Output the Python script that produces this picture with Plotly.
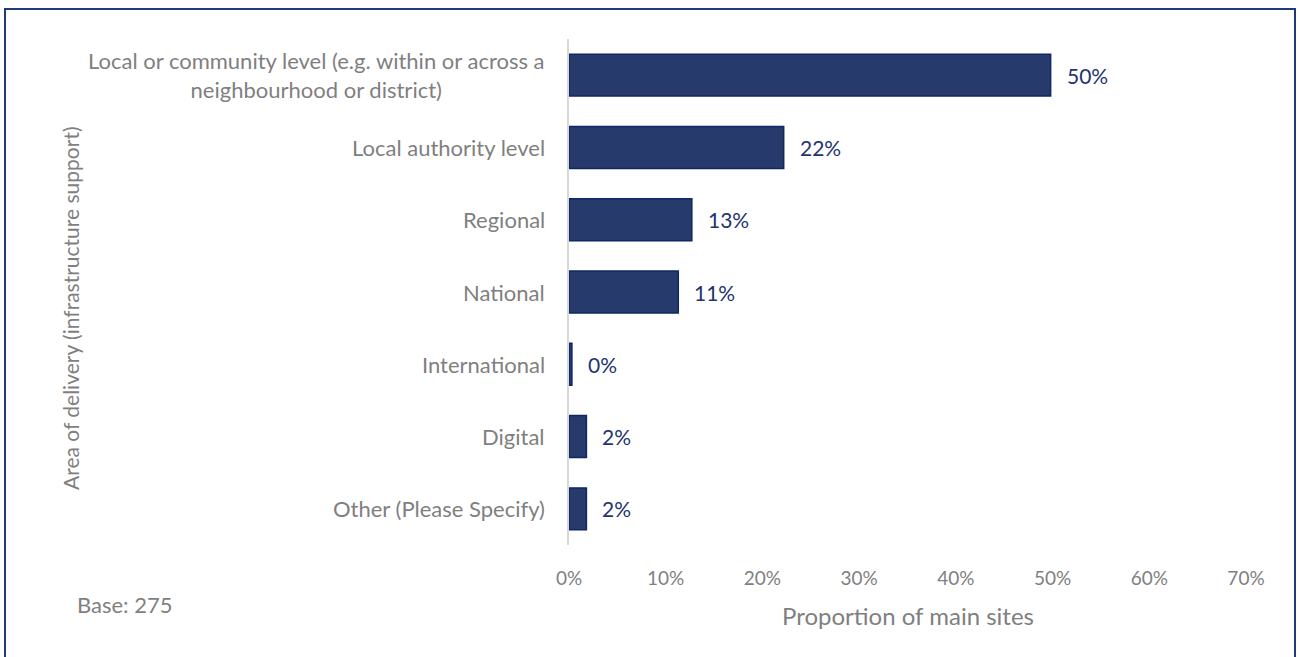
import plotly.graph_objects as go

categories = [
    "Local or community level (e.g. within or across a<br>neighbourhood or district)",
    "Local authority level",
    "Regional",
    "National",
    "International",
    "Digital",
    "Other (Please Specify)",
]
values = [49.8, 22.2, 12.7, 11.3, 0.3, 1.8, 1.8]
labels = ["50%", "22%", "13%", "11%", "0%", "2%", "2%"]
x_ticks = [0, 10, 20, 30, 40, 50, 60, 70]
x_tick_labels = ["0%", "10%", "20%", "30%", "40%", "50%", "60%", "70%"]

GRAY = "#7F7F7F"
NAVY = "#1F3470"
FONT = "Lato"

W, H = 1298, 657
L, R, T, B = 569, 52, 39, 112
PW, PH = W - L - R, H - T - B


def px_x(p):
    return (p - L) / PW


def px_y(p):
    return (H - B - p) / PH


fig = go.Figure(
    go.Bar(
        y=categories,
        x=values,
        orientation="h",
        marker=dict(color="#263A6B", line=dict(color="#0F2763", width=1.5)),
        width=0.58,
        hoverinfo="skip",
    )
)

annotations = []
for c, v, lab in zip(categories, values, labels):
    annotations.append(dict(
        x=v, y=c, xref="x", yref="y", text=lab, showarrow=False,
        xanchor="left", yanchor="middle", xshift=14,
        font=dict(family=FONT, size=21, color=NAVY),
    ))
    annotations.append(dict(
        x=0, y=c, xref="paper", yref="y", text=c, showarrow=False,
        xanchor="right", yanchor="middle", align="center", xshift=-22,
        font=dict(family=FONT, size=22, color=GRAY),
    ))

annotations += [
    dict(x=px_x(70), y=px_y(308), xref="paper", yref="paper",
         xanchor="center", yanchor="middle",
         text="Area of delivery (infrastructure support)", textangle=-90,
         showarrow=False, font=dict(family=FONT, size=21, color=GRAY)),
    dict(x=0.5, y=px_y(615), xref="paper", yref="paper",
         xanchor="center", yanchor="middle",
         text="Proportion of main sites", showarrow=False,
         font=dict(family=FONT, size=24, color=GRAY)),
    dict(x=px_x(75), y=px_y(604), xref="paper", yref="paper",
         xanchor="left", yanchor="middle",
         text="Base: 275", showarrow=False,
         font=dict(family=FONT, size=22, color=GRAY)),
]

fig.update_layout(
    width=W, height=H,
    margin=dict(l=L, r=R, t=T, b=B),
    paper_bgcolor="white", plot_bgcolor="white",
    showlegend=False,
    annotations=annotations,
    shapes=[dict(type="rect", xref="paper", yref="paper",
                 x0=px_x(5), x1=px_x(1295), y0=px_y(680), y1=px_y(9),
                 line=dict(color="#1F3A7A", width=2), layer="below")],
    xaxis=dict(range=[0, 70], tickvals=x_ticks, ticktext=x_tick_labels,
               showgrid=False, zeroline=False, showline=False,
               ticks="", ticklabelstandoff=20,
               tickfont=dict(family=FONT, size=19, color=GRAY)),
    yaxis=dict(autorange="reversed", showticklabels=False, showgrid=False,
               zeroline=False, showline=True, linecolor="#D9D9D9", linewidth=2,
               ticks=""),
)

fig.write_html("out.html")
